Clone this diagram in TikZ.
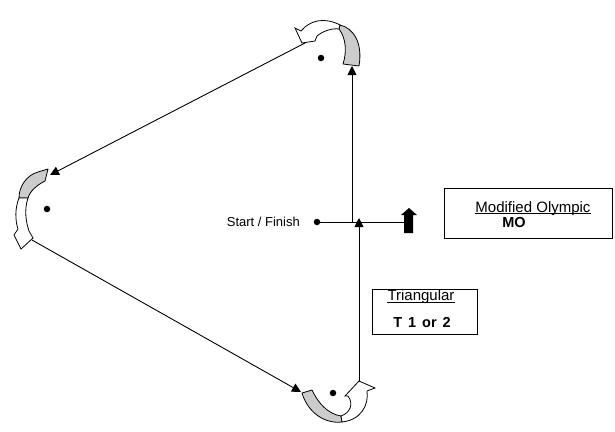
\documentclass[tikz,border=0pt]{standalone}
\usepackage{fontspec}
\setmainfont{Liberation Sans}
\usetikzlibrary{arrows.meta}
\definecolor{turngrey}{RGB}{204,204,204}
\begin{document}
\begin{tikzpicture}[x=1pt,y=-1pt,
  conn/.style={line width=0.9pt, -{Triangle[width=9pt,length=9pt]}},
  plainline/.style={line width=0.9pt},
  dotnode/.style={circle, fill=black, inner sep=0pt, minimum size=6.5pt},
  sflabel/.style={inner sep=0pt, font=\fontsize{13}{15}\selectfont},
  boxlabel/.style={inner sep=0pt, font=\fontsize{15}{18}\selectfont},
  boldlabel/.style={inner sep=0pt, font=\fontsize{14.5}{17}\selectfont\bfseries},
  infobox/.style={draw, line width=0.9pt, inner sep=0pt},
  uline/.style={line width=0.8pt},
  tailband/.style={fill=turngrey, draw=black, line width=0.8pt, line join=round},
  headband/.style={fill=white, draw=black, line width=0.8pt, line join=miter}]
\useasboundingbox (0,0) rectangle (615,431);

% turning marks (dots)
\node[dotnode] (dTop) at (321,58) {};
\node[dotnode] (dLeft) at (47,209) {};
\node[dotnode] (dBot) at (333,393) {};
\node[dotnode] (start) at (317,222) {};

% curved turn arrows
% top
\draw[tailband] (340,25) .. controls (353,28) and (363,42) .. (359,66) -- (343,64) .. controls (347,52) and (346,38) .. (339,29) -- cycle;
\draw[headband] (340,25) .. controls (325,17) and (310,20) .. (301,31) -- (295,28) -- (302,43) -- (315,41) -- (317,36) .. controls (323,31) and (332,28) .. (339,29) -- cycle;
% left
\draw[tailband] (38,172) -- (48,169) -- (45,181) .. controls (37,185) and (30,191) .. (28,198) -- (19,198) .. controls (19,186) and (27,175) .. (38,172) -- cycle;
\draw[headband] (19,198) .. controls (15,208) and (15,220) .. (18,229) -- (14,235) -- (21,249) -- (33,238) -- (29,231) .. controls (26,222) and (24,210) .. (28,198) -- cycle;
% bottom
\draw[tailband] (302,393) -- (312,390) .. controls (318,403) and (328,414) .. (341,416) -- (342,422) .. controls (325,424) and (308,413) .. (302,393) -- cycle;
\draw[headband] (341,416) .. controls (350,413) and (354,404) .. (348,396) -- (345,396) -- (359,381) -- (375,388) -- (367,391) .. controls (369,405) and (361,420) .. (342,422) -- cycle;

% connector end points
\coordinate (jn) at (352,222);
\coordinate (topTip) at (352,66);
\coordinate (topTail) at (305,43);
\coordinate (leftTip) at (50,175);
\coordinate (leftTail) at (32,240);
\coordinate (botTip) at (301,392);
\coordinate (botTail) at (359,381);
\coordinate (finTip) at (359,218);
\coordinate (boldFoot) at (404,222);

% legs
\draw[plainline] (start) -- (boldFoot);
\draw[conn] (jn) -- (topTip);
\draw[conn] (topTail) -- (leftTip);
\draw[conn] (leftTail) -- (botTip);
\draw[conn] (botTail) -- (finTip);

% bold direction arrow
\fill[black] (401,215) -- (409,208) -- (417,215) -- (413,215) -- (413,233) -- (404,233) -- (404,215) -- cycle;

% labels
\node[sflabel, anchor=base east] (sftext) at (300,226) {Start / Finish};

\node[infobox, minimum width=168pt, minimum height=50pt] (mobox) at (528,213) {};
\node[boxlabel, anchor=base] (motitle) at (533,212) {Modified Olympic};
\draw[uline] ([yshift=-1.5pt]motitle.base west) -- ([yshift=-1.5pt]motitle.base east);
\node[boldlabel, anchor=base] (mocode) at (514,227) {MO};

\node[infobox, minimum width=105pt, minimum height=45pt] (tribox) at (424.5,311.5) {};
\node[boxlabel, anchor=base] (trititle) at (421,300.5) {Triangular};
\draw[uline] ([yshift=-1.5pt]trititle.base west) -- ([yshift=-1.5pt]trititle.base east);
\node[boldlabel, anchor=base] (tricode) at (422,327) {\spaceskip=6pt\relax T 1 or 2};
\end{tikzpicture}
\end{document}
